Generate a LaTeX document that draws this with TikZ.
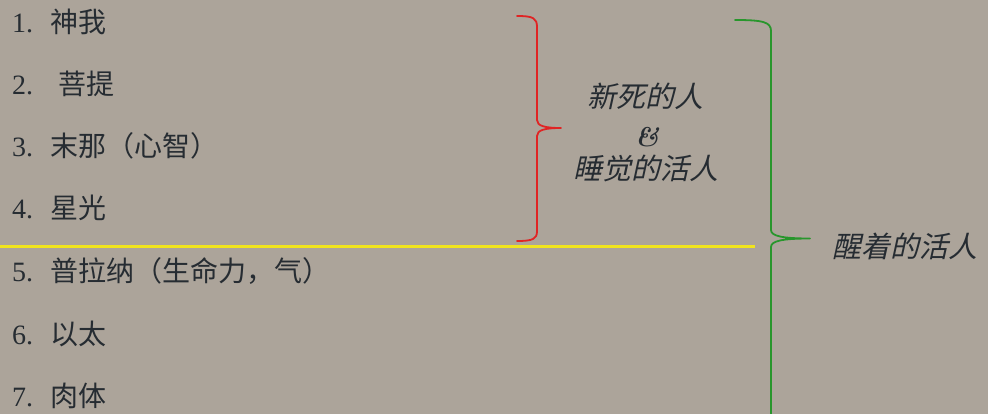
\documentclass[tikz,border=0pt]{standalone}
\usepackage{fontspec}
\newfontfamily\cjk{Noto Sans CJK SC}
\newfontfamily\cjkit[FakeSlant=0.22]{Noto Sans CJK SC}
\newfontfamily\num{Liberation Serif}
\definecolor{bg}{RGB}{172,164,154}
\definecolor{ink}{RGB}{38,44,50}
\definecolor{bred}{RGB}{224,36,36}
\definecolor{bgreen}{RGB}{40,150,44}
\definecolor{byellow}{RGB}{240,228,30}
\begin{document}
\begin{tikzpicture}[x=1pt,y=-1pt,
  item/.style={anchor=base west, inner sep=0, text=ink, font=\fontsize{28}{30}\selectfont},
  label/.style={anchor=base, inner sep=0, text=ink, font=\fontsize{29}{31}\selectfont\cjkit},
  brace/.style={line width=1.8pt, line cap=round, line join=round}]
\fill[bg] (0,0) rectangle (988,414);
\useasboundingbox (0,0) rectangle (988,414);
% items
\node[item] (i1) at (12,33)  {\makebox[38pt][l]{\num 1.}\cjk 神我};
\node[item] (i2) at (12,95)  {\makebox[46pt][l]{\num 2.}\cjk 菩提};
\node[item] (i3) at (12,157) {\makebox[38pt][l]{\num 3.}\cjk 末那（心智）};
\node[item] (i4) at (12,219) {\makebox[38pt][l]{\num 4.}\cjk 星光};
\node[item] (i5) at (12,281) {\makebox[38pt][l]{\num 5.}\cjk 普拉纳（生命力，气）};
\node[item] (i6) at (12,344) {\makebox[38pt][l]{\num 6.}\cjk 以太};
\node[item] (i7) at (12,406) {\makebox[38pt][l]{\num 7.}\cjk 肉体};
% divider
\draw[byellow, line width=3pt] (0,246.5) -- (755,246.5);
% red brace
\draw[brace, bred] (517,16) .. controls (533,16) and (537,18) .. (537,27)
  -- (537,120) .. controls (537,126) and (545,128) .. (561,128)
  .. controls (545,128) and (537,130) .. (537,136)
  -- (537,231) .. controls (537,239) and (533,241) .. (517,241);
% green brace
\draw[brace, bgreen] (735,20) .. controls (763,20) and (771,22) .. (771,31)
  -- (771,230) .. controls (771,236) and (782,238.5) .. (810,238.5)
  .. controls (782,238.5) and (771,241) .. (771,247)
  -- (771,414);
% labels
\node[label] (l1) at (645,108) {新死的人};
\node[anchor=base, inner sep=0, text=ink, font=\fontsize{27}{29}\selectfont\bfseries\itshape] (amp) at (647,147) {\&};
\node[label] (l2) at (646,180) {睡觉的活人};
\node[label, anchor=base west] (l3) at (832,258) {醒着的活人};
\end{tikzpicture}
\end{document}
